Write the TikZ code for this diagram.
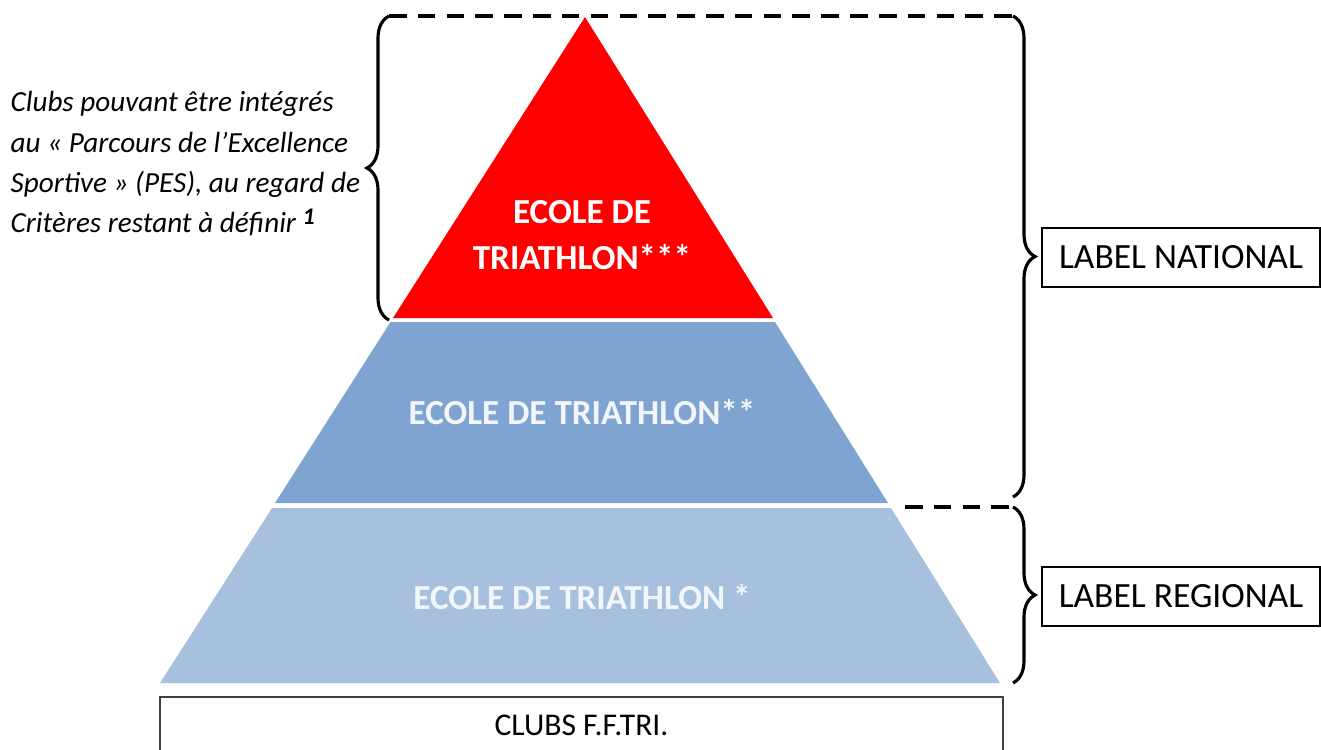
\documentclass[tikz,border=0pt]{standalone}
\usepackage{fontspec}
\setmainfont{Carlito}
\usetikzlibrary{decorations.pathreplacing}
\definecolor{tierred}{RGB}{255,0,0}
\definecolor{midblue}{RGB}{128,164,209}
\definecolor{lowblue}{RGB}{167,192,222}
\definecolor{paletext}{RGB}{242,246,251}
\begin{document}
\begin{tikzpicture}[
    levelbox/.style={draw=black, line width=0.6pt, minimum width=2.78cm, minimum height=0.59cm, font=\fontsize{10.1}{12}\selectfont},
    tiertext/.style={text=white, align=center, font=\fontsize{10}{13.1}\selectfont\bfseries},
    curly/.style={decorate, decoration={brace, amplitude=0.22cm}, line width=0.9pt},
    limit/.style={dash pattern=on 5pt off 3.2pt, line width=1.3pt}
  ]
  \useasboundingbox (0,0) rectangle (13.21,7.49);
  % les trois niveaux
  \coordinate (apex) at (5.85,7.32);
  \fill[tierred] (apex) -- (3.93,4.31) -- (7.73,4.31) -- cycle;
  \fill[midblue] (3.905,4.27) -- (2.75,2.46) -- (8.88,2.46) -- (7.75,4.27) -- cycle;
  \fill[lowblue] (2.72,2.41) -- (1.60,0.66) -- (10.00,0.66) -- (8.91,2.41) -- cycle;
  \node[tiertext] (ecole3) at (5.82,5.14) {ECOLE DE\\TRIATHLON***};
  \node[tiertext, text=paletext] (ecole2) at (5.82,3.37) {ECOLE DE TRIATHLON**};
  \node[tiertext, text=paletext] (ecole1) at (5.82,1.52) {ECOLE DE TRIATHLON *};
  \node[draw=black!75, line width=0.6pt, minimum width=8.43cm, minimum height=0.56cm,
        font=\fontsize{9}{11}\selectfont] (clubs) at (5.815,0.24) {CLUBS F.F.TRI.};
  % labels
  \node[levelbox] (national) at (11.81,4.915) {LABEL NATIONAL};
  \node[levelbox] (regional) at (11.81,1.525) {LABEL REGIONAL};
  % accolades et limites
  \coordinate (topleft) at (3.89,7.33);
  \coordinate (topright) at (10.13,7.33);
  \coordinate (natend) at (10.13,2.52);
  \coordinate (midleft) at (9.05,2.42);
  \coordinate (midright) at (10.13,2.42);
  \coordinate (baseright) at (10.13,0.66);
  \coordinate (pesend) at (3.89,4.29);
  \draw[limit] (topleft) -- (topright);
  \draw[limit] (midleft) -- (midright);
  \draw[curly] (topright) -- (natend);
  \draw[curly] (midright) -- (baseright);
  \draw[curly] (pesend) -- (topleft);
  \node[anchor=north west, align=left, inner sep=0pt,
        font=\fontsize{8.3}{11.4}\selectfont\itshape] (pes) at (0.10,6.58)
    {Clubs pouvant être intégrés\\
     au « Parcours de l’Excellence\\
     Sportive » (PES), au regard de\\
     Critères restant à définir \raisebox{0.55ex}{\fontsize{6.8}{7}\selectfont\bfseries 1}};
\end{tikzpicture}
\end{document}
